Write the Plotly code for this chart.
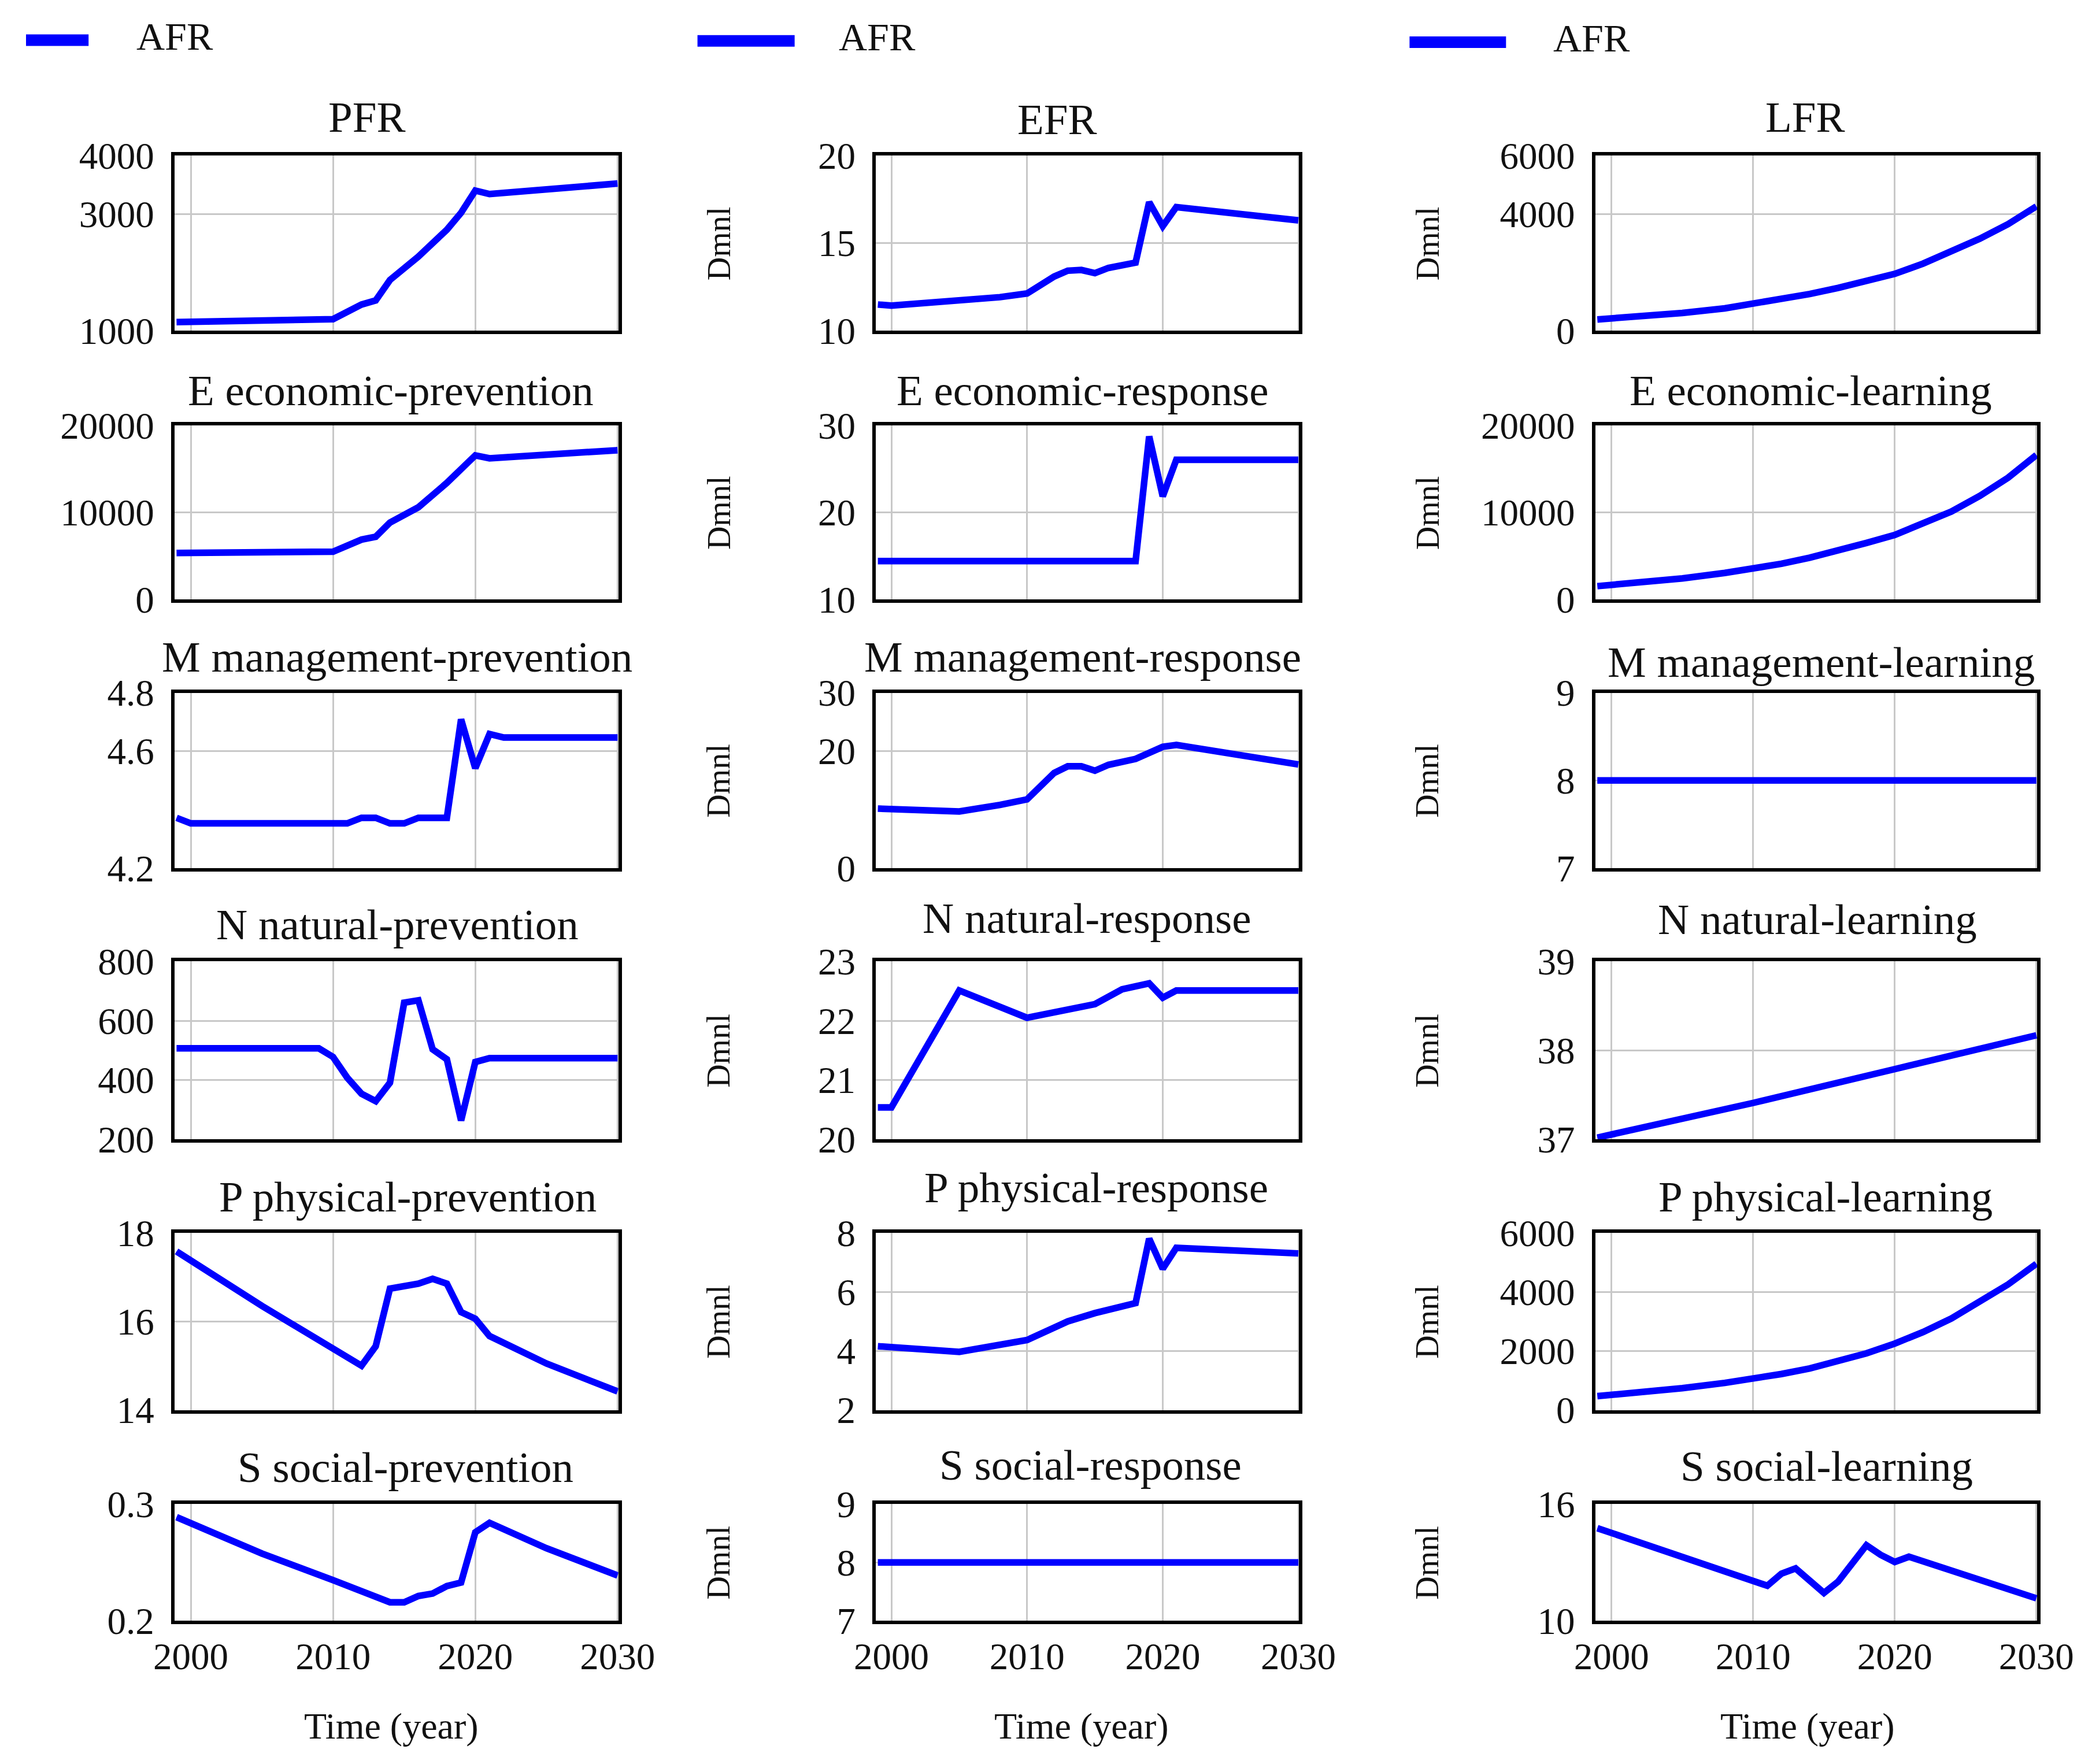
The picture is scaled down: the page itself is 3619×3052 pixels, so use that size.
import plotly.graph_objects as go

# ---------------- data ----------------
pfr_years = [1999, 2010, 2012, 2013, 2014, 2016, 2018, 2019, 2020, 2021, 2030]
pfr_values = [1150, 1200, 1450, 1520, 1870, 2270, 2730, 3020, 3400, 3340, 3520]

econ_prev_years = [1999, 2010, 2012, 2013, 2014, 2016, 2018, 2019, 2020, 2021, 2030]
econ_prev_values = [5350, 5490, 6880, 7210, 8840, 10600, 13400, 15000, 16560, 16230, 17160]

mgmt_prev_years = [1999, 2000, 2011, 2012, 2013, 2014, 2015, 2016, 2018, 2019, 2020, 2021, 2022, 2030]
mgmt_prev_values = [4.372, 4.353, 4.353, 4.372, 4.372, 4.353, 4.353, 4.372, 4.372, 4.709, 4.542, 4.659, 4.647, 4.647]

nat_prev_years = [1999, 2009, 2010, 2011, 2012, 2013, 2014, 2015, 2016, 2017, 2018, 2019, 2020, 2021, 2030]
nat_prev_values = [507, 507, 478, 408, 354, 329, 391, 661, 669, 504, 470, 264, 461, 474, 474]

phys_prev_years = [1999, 2005, 2012, 2013, 2014, 2016, 2017, 2018, 2019, 2020, 2021, 2025, 2030]
phys_prev_values = [17.58, 16.35, 15.0, 15.44, 16.74, 16.85, 16.96, 16.85, 16.21, 16.06, 15.67, 15.05, 14.42]

soc_prev_years = [1999, 2005, 2010, 2014, 2015, 2016, 2017, 2018, 2019, 2020, 2021, 2023, 2025, 2030]
soc_prev_values = [0.2888, 0.2576, 0.2348, 0.2158, 0.2158, 0.2212, 0.2233, 0.2297, 0.2327, 0.2758, 0.2839, 0.2727, 0.2621, 0.2388]

efr_years = [1999, 2000, 2008, 2010, 2012, 2013, 2014, 2015, 2016, 2018, 2019, 2020, 2021, 2030]
efr_values = [11.5, 11.44, 11.92, 12.13, 13.1, 13.43, 13.47, 13.29, 13.59, 13.89, 17.34, 15.97, 17.06, 16.3]

econ_resp_years = [1999, 2018, 2019, 2020, 2021, 2030]
econ_resp_values = [14.42, 14.42, 28.74, 21.86, 26.05, 26.05]

mgmt_resp_years = [1999, 2005, 2008, 2010, 2012, 2013, 2014, 2015, 2016, 2018, 2020, 2021, 2030]
mgmt_resp_values = [10.19, 9.69, 10.82, 11.76, 16.29, 17.42, 17.42, 16.67, 17.67, 18.68, 20.75, 21.07, 17.74]

nat_resp_years = [1999, 2000, 2005, 2010, 2015, 2017, 2019, 2020, 2021, 2030]
nat_resp_values = [20.54, 20.54, 22.51, 22.05, 22.28, 22.53, 22.63, 22.39, 22.51, 22.51]

phys_resp_years = [1999, 2005, 2010, 2013, 2015, 2018, 2019, 2020, 2021, 2030]
phys_resp_values = [4.16, 3.97, 4.37, 5.0, 5.28, 5.62, 7.8, 6.78, 7.49, 7.3]

soc_resp_years = [1999, 2030]
soc_resp_values = [8, 8]

lfr_years = [1999, 2002, 2005, 2008, 2010, 2012, 2014, 2016, 2018, 2020, 2022, 2024, 2026, 2028, 2030]
lfr_values = [390, 490, 610, 770, 930, 1080, 1260, 1470, 1700, 1950, 2300, 2700, 3150, 3650, 4260]

econ_learn_years = [1999, 2002, 2005, 2008, 2010, 2012, 2014, 2016, 2018, 2020, 2022, 2024, 2026, 2028, 2030]
econ_learn_values = [1530, 1930, 2420, 3050, 3530, 4100, 4800, 5600, 6500, 7420, 8700, 10100, 11900, 14000, 16600]

mgmt_learn_years = [1999, 2030]
mgmt_learn_values = [8, 8]

nat_learn_years = [1999, 2010, 2020, 2030]
nat_learn_values = [37.02, 37.41, 37.79, 38.17]

phys_learn_years = [1999, 2002, 2005, 2008, 2010, 2012, 2014, 2016, 2018, 2020, 2022, 2024, 2026, 2028, 2030]
phys_learn_values = [470, 590, 740, 920, 1060, 1220, 1410, 1640, 1920, 2250, 2640, 3100, 3650, 4250, 4950]

soc_learn_years = [1999, 2011, 2012, 2013, 2015, 2016, 2018, 2019, 2020, 2021, 2030]
soc_learn_values = [14.76, 11.8, 12.42, 12.69, 11.43, 12.01, 13.88, 13.39, 13.02, 13.29, 11.15]

# titles, y ranges and tick labels per panel (column-major)
titles = [
    ["PFR", "E economic-prevention", "M management-prevention", "N natural-prevention",
     "P physical-prevention", "S social-prevention"],
    ["EFR", "E economic-response", "M management-response", "N natural-response",
     "P physical-response", "S social-response"],
    ["LFR", "E economic-learning", "M management-learning", "N natural-learning",
     "P physical-learning", "S social-learning"],
]
series = [
    [(pfr_years, pfr_values), (econ_prev_years, econ_prev_values), (mgmt_prev_years, mgmt_prev_values),
     (nat_prev_years, nat_prev_values), (phys_prev_years, phys_prev_values), (soc_prev_years, soc_prev_values)],
    [(efr_years, efr_values), (econ_resp_years, econ_resp_values), (mgmt_resp_years, mgmt_resp_values),
     (nat_resp_years, nat_resp_values), (phys_resp_years, phys_resp_values), (soc_resp_years, soc_resp_values)],
    [(lfr_years, lfr_values), (econ_learn_years, econ_learn_values), (mgmt_learn_years, mgmt_learn_values),
     (nat_learn_years, nat_learn_values), (phys_learn_years, phys_learn_values), (soc_learn_years, soc_learn_values)],
]
y_ranges = [
    [[1000, 4000], [0, 20000], [4.2, 4.8], [200, 800], [14, 18], [0.2, 0.3]],
    [[10, 20], [10, 30], [0, 30], [20, 23], [2, 8], [7, 9]],
    [[0, 6000], [0, 20000], [7, 9], [37, 39], [0, 6000], [10, 16]],
]
y_ticks = [
    [[1000, 3000, 4000], [0, 10000, 20000], [4.2, 4.6, 4.8], [200, 400, 600, 800], [14, 16, 18], [0.2, 0.3]],
    [[10, 15, 20], [10, 20, 30], [0, 20, 30], [20, 21, 22, 23], [2, 4, 6, 8], [7, 8, 9]],
    [[0, 4000, 6000], [0, 10000, 20000], [7, 8, 9], [37, 38, 39], [0, 2000, 4000, 6000], [10, 16]],
]
y_ticktext = [
    [["1000", "3000", "4000"], ["0", "10000", "20000"], ["4.2", "4.6", "4.8"],
     ["200", "400", "600", "800"], ["14", "16", "18"], ["0.2", "0.3"]],
    [["10", "15", "20"], ["10", "20", "30"], ["0", "20", "30"], ["20", "21", "22", "23"],
     ["2", "4", "6", "8"], ["7", "8", "9"]],
    [["0", "4000", "6000"], ["0", "10000", "20000"], ["7", "8", "9"], ["37", "38", "39"],
     ["0", "2000", "4000", "6000"], ["10", "16"]],
]
x_ticks = [2000, 2010, 2020, 2030]
x_ticktext = ["2000", "2010", "2020", "2030"]
x_range = [1998.85, 2030.05]
legend_name = "AFR"
y_unit = "Dmnl"
x_title = "Time (year)"

# ---------------- layout (positions measured on the reference, display scale) ----------------
W, H = 3619, 3052
BLUE = "#0000ff"
FONT = "Liberation Serif"


def fx(d):
    # reference display x -> figure pixel x (compensates for the photo framing)
    return (d - 18) / 0.4222


def fy(d):
    return (d - 16) / 0.4233


col_d = [(129.5, 463), (656.5, 974.5), (1197, 1529)]
row_d = [(114, 245.5), (316.5, 447), (517, 648.5), (718.5, 852), (922, 1055), (1125.5, 1213)]
title_xd = [[274, 292, 297, 297, 305, 303],
            [793, 812, 812, 815, 822, 818],
            [1355, 1359, 1367, 1364, 1370, 1371]]
title_yd = [[88, 293, 493, 694, 898, 1101],
            [90, 293, 493, 689, 891, 1099],
            [88, 293, 497, 690, 898, 1100]]
legend_d = [((16, 65), 100, 27.5), ((522.5, 595.5), 628, 28), ((1057.5, 1130), 1164.6, 29)]
dmnl_xd = [None, 538.5, 1071]
time_xd = [292.6, 811, 1356.5]
time_yd = 1295

fig = go.Figure()
layout = dict(
    width=W, height=H, margin=dict(l=0, r=0, t=0, b=0),
    paper_bgcolor="white", plot_bgcolor="white", showlegend=False,
    font=dict(family=FONT, color="#111111"),
)
annotations = []
shapes = []

n = 0
for c in range(3):
    for r in range(6):
        n += 1
        xs, ys = series[c][r]
        sfx = "" if n == 1 else str(n)
        fig.add_trace(go.Scatter(
            x=xs, y=ys, mode="lines", name=legend_name,
            line=dict(color=BLUE, width=11.5), xaxis="x" + sfx, yaxis="y" + sfx,
        ))
        x0, x1 = fx(col_d[c][0]), fx(col_d[c][1])
        y0, y1 = fy(row_d[r][0]), fy(row_d[r][1])
        common = dict(
            showgrid=True, gridcolor="#c8c8c8", gridwidth=3,
            showline=True, mirror=True, linecolor="black", linewidth=6,
            zeroline=False, ticks="", tickfont=dict(family=FONT, size=65, color="#111111"),
        )
        layout["xaxis" + sfx] = dict(
            domain=[x0 / W, x1 / W], anchor="y" + sfx, range=x_range,
            tickmode="array", tickvals=x_ticks, ticktext=x_ticktext,
            showticklabels=(r == 5), ticklabelstandoff=0, **common,
        )
        layout["yaxis" + sfx] = dict(
            domain=[1 - y1 / H, 1 - y0 / H], anchor="x" + sfx, range=y_ranges[c][r],
            tickmode="array", tickvals=y_ticks[c][r], ticktext=y_ticktext[c][r],
            ticklabelstandoff=16, **common,
        )
        annotations.append(dict(
            text=titles[c][r], xref="paper", yref="paper",
            x=fx(title_xd[c][r]) / W, y=1 - fy(title_yd[c][r] - 3) / H,
            xanchor="center", yanchor="middle",
            showarrow=False, font=dict(family=FONT, size=75, color="#111111"),
        ))
        if dmnl_xd[c] is not None:
            annotations.append(dict(
                text=y_unit, xref="paper", yref="paper", textangle=-90,
                x=fx(dmnl_xd[c]) / W, y=1 - (y0 + y1) / 2 / H, xanchor="center", yanchor="middle",
                showarrow=False, font=dict(family=FONT, size=56, color="#111111"),
            ))

for c in range(3):
    (lx0, lx1), tx, ly = legend_d[c]
    shapes.append(dict(type="line", xref="paper", yref="paper",
                       x0=max(fx(lx0), 0) / W, x1=fx(lx1) / W,
                       y0=1 - fy(ly) / H, y1=1 - fy(ly) / H,
                       line=dict(color=BLUE, width=20)))
    annotations.append(dict(
        text=legend_name, xref="paper", yref="paper", x=fx(tx) / W, y=1 - fy(ly - 3) / H,
        xanchor="left", yanchor="middle", showarrow=False,
        font=dict(family=FONT, size=68, color="#111111"),
    ))
    annotations.append(dict(
        text=x_title, xref="paper", yref="paper", x=fx(time_xd[c]) / W, y=1 - fy(time_yd - 3) / H,
        xanchor="center", yanchor="middle", showarrow=False,
        font=dict(family=FONT, size=64, color="#111111"),
    ))

layout["annotations"] = annotations
layout["shapes"] = shapes
fig.update_layout(**layout)
fig.write_html("out.html")
